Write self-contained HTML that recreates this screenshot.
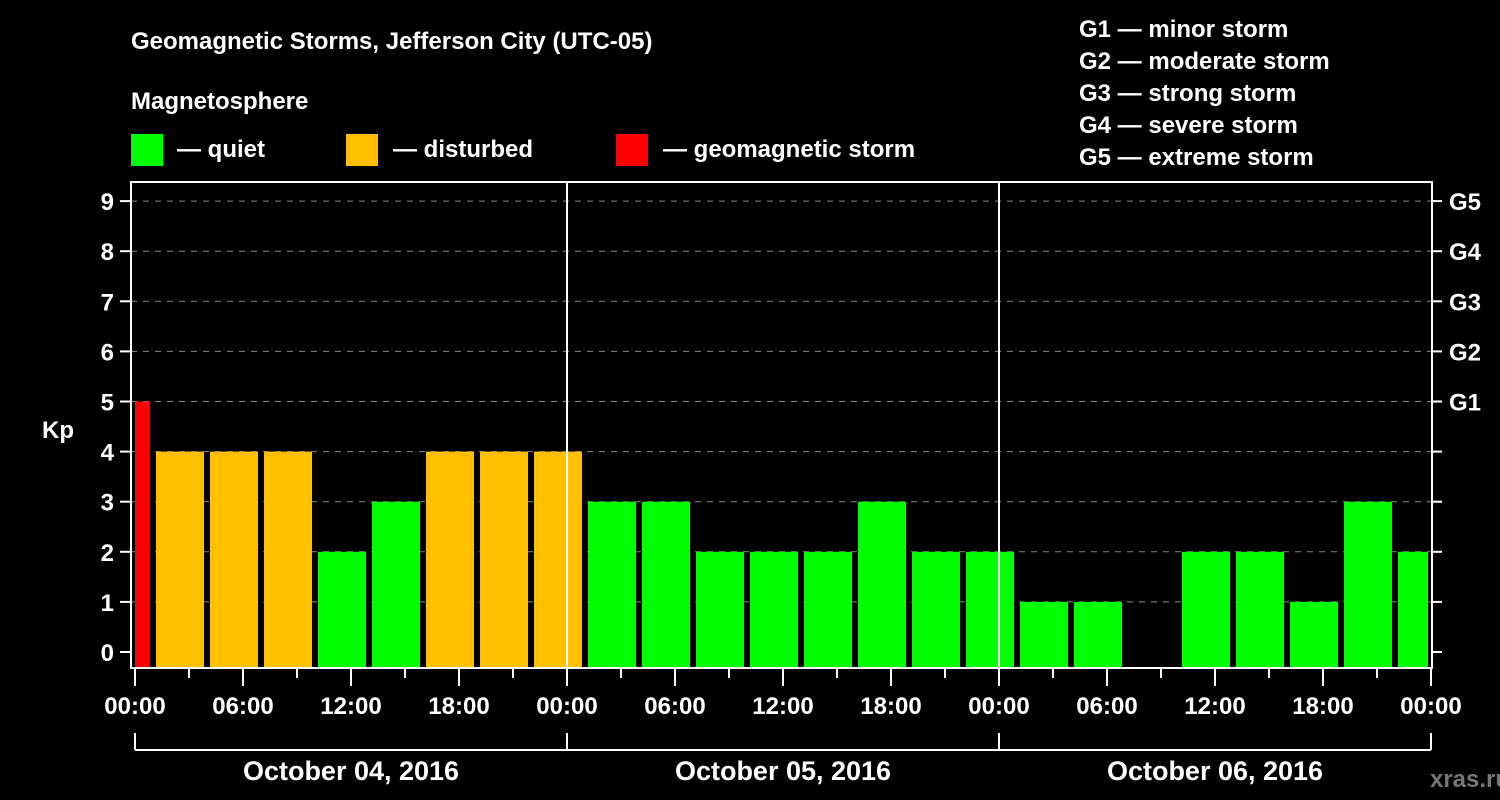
<!DOCTYPE html>
<html><head><meta charset="utf-8"><style>
body{margin:0;background:#000;}
svg{display:block;font-family:"Liberation Sans",sans-serif;font-weight:bold;}
</style></head><body>
<svg width="1500" height="800" viewBox="0 0 1500 800">
<rect width="1500" height="800" fill="#000"/>
<text x="131" y="49" fill="#fff" font-size="24">Geomagnetic Storms, Jefferson City (UTC-05)</text>
<text x="131" y="109" fill="#fff" font-size="24">Magnetosphere</text>
<g><rect x="131" y="134" width="32" height="32" fill="#00ff00"/><text x="177" y="157" fill="#fff" font-size="24">— quiet</text></g>
<g><rect x="346" y="134" width="32" height="32" fill="#ffc000"/><text x="393" y="157" fill="#fff" font-size="24">— disturbed</text></g>
<g><rect x="616" y="134" width="32" height="32" fill="#ff0000"/><text x="663" y="157" fill="#fff" font-size="24">— geomagnetic storm</text></g>
<g fill="#fff" font-size="24">
<text x="1079" y="37">G1 — minor storm</text>
<text x="1079" y="69">G2 — moderate storm</text>
<text x="1079" y="101">G3 — strong storm</text>
<text x="1079" y="133">G4 — severe storm</text>
<text x="1079" y="165">G5 — extreme storm</text>
</g>
<text x="42" y="438" fill="#fff" font-size="24">Kp</text>
<text x="1470" y="787" fill="#777" font-size="24" text-anchor="middle">xras.ru</text>
<g id="plot"></g>
</svg>
<script>
const kpValues=[5,4,4,4,2,3,4,4,4,3,3,2,2,2,3,2,2,1,1,0,2,2,1,3,2];
const xTickLabels=["00:00","06:00","12:00","18:00","00:00","06:00","12:00","18:00","00:00","06:00","12:00","18:00","00:00"];
const dayLabels=["October 04, 2016","October 05, 2016","October 06, 2016"];
const gLabels=["G1","G2","G3","G4","G5"];
const NS="http://www.w3.org/2000/svg";
const g=document.getElementById('plot');
const L=131,R=1432,T=182,B=668,X0=135,PXH=18;
const x=h=>X0+h*PXH;
const y=v=>652-v*50.1;
function mk(tag,a,parent){const e=document.createElementNS(NS,tag);for(const k in a)e.setAttribute(k,a[k]);(parent||g).appendChild(e);return e;}
// grid
for(let v=1;v<=9;v++){const ln=mk('line',{x1:L,x2:R,y1:y(v),y2:y(v),stroke:'#888','stroke-dasharray':'6,6','stroke-width':1});

}
// bars
kpValues.forEach((v,i)=>{if(v<=0)return;const h=-2+3*i;let x1=Math.max(x(h)+3,X0),x2=Math.min(x(h+3)-3,1428);
const c=v>=5?'#ff0000':v>=4?'#ffc000':'#00ff00';
const r=mk('rect',{x:x1,y:y(v),width:x2-x1,height:B-y(v),fill:c});

});
// frame
const fr=mk('rect',{x:L,y:T,width:R-L,height:B-T,fill:'none',stroke:'#fff','stroke-width':2});


[1,2].forEach(d=>{const ln=mk('line',{x1:x(24*d),x2:x(24*d),y1:T,y2:B,stroke:'#fff','stroke-width':2});

});
// y ticks
for(let v=0;v<=9;v++){mk('line',{x1:120,x2:L,y1:y(v),y2:y(v),stroke:'#fff','stroke-width':2});
mk('line',{x1:R,x2:1442,y1:y(v),y2:y(v),stroke:'#fff','stroke-width':2});
const t=mk('text',{x:114,y:y(v)+9,fill:'#fff','font-size':24,'text-anchor':'end'});t.textContent=v;

}
gLabels.forEach((s,i)=>{const t=mk('text',{x:1449,y:y(5+i)+9,fill:'#fff','font-size':24});t.textContent=s;

});
// x ticks
for(let h=0;h<=72;h+=3){const major=h%6===0;mk('line',{x1:x(h),x2:x(h),y1:B,y2:major?686:678,stroke:'#fff','stroke-width':2});}
xTickLabels.forEach((s,i)=>{const t=mk('text',{x:x(i*6),y:714,fill:'#fff','font-size':24,'text-anchor':'middle'});t.textContent=s;

});
// day bracket
mk('line',{x1:x(0),x2:x(72),y1:750,y2:750,stroke:'#fff','stroke-width':2});
for(let d=0;d<=3;d++)mk('line',{x1:x(24*d),x2:x(24*d),y1:733,y2:750,stroke:'#fff','stroke-width':2});
dayLabels.forEach((s,i)=>{const t=mk('text',{x:x(24*i+12),y:780,fill:'#fff','font-size':27,'text-anchor':'middle'});t.textContent=s;

});
</script>
</body></html>
